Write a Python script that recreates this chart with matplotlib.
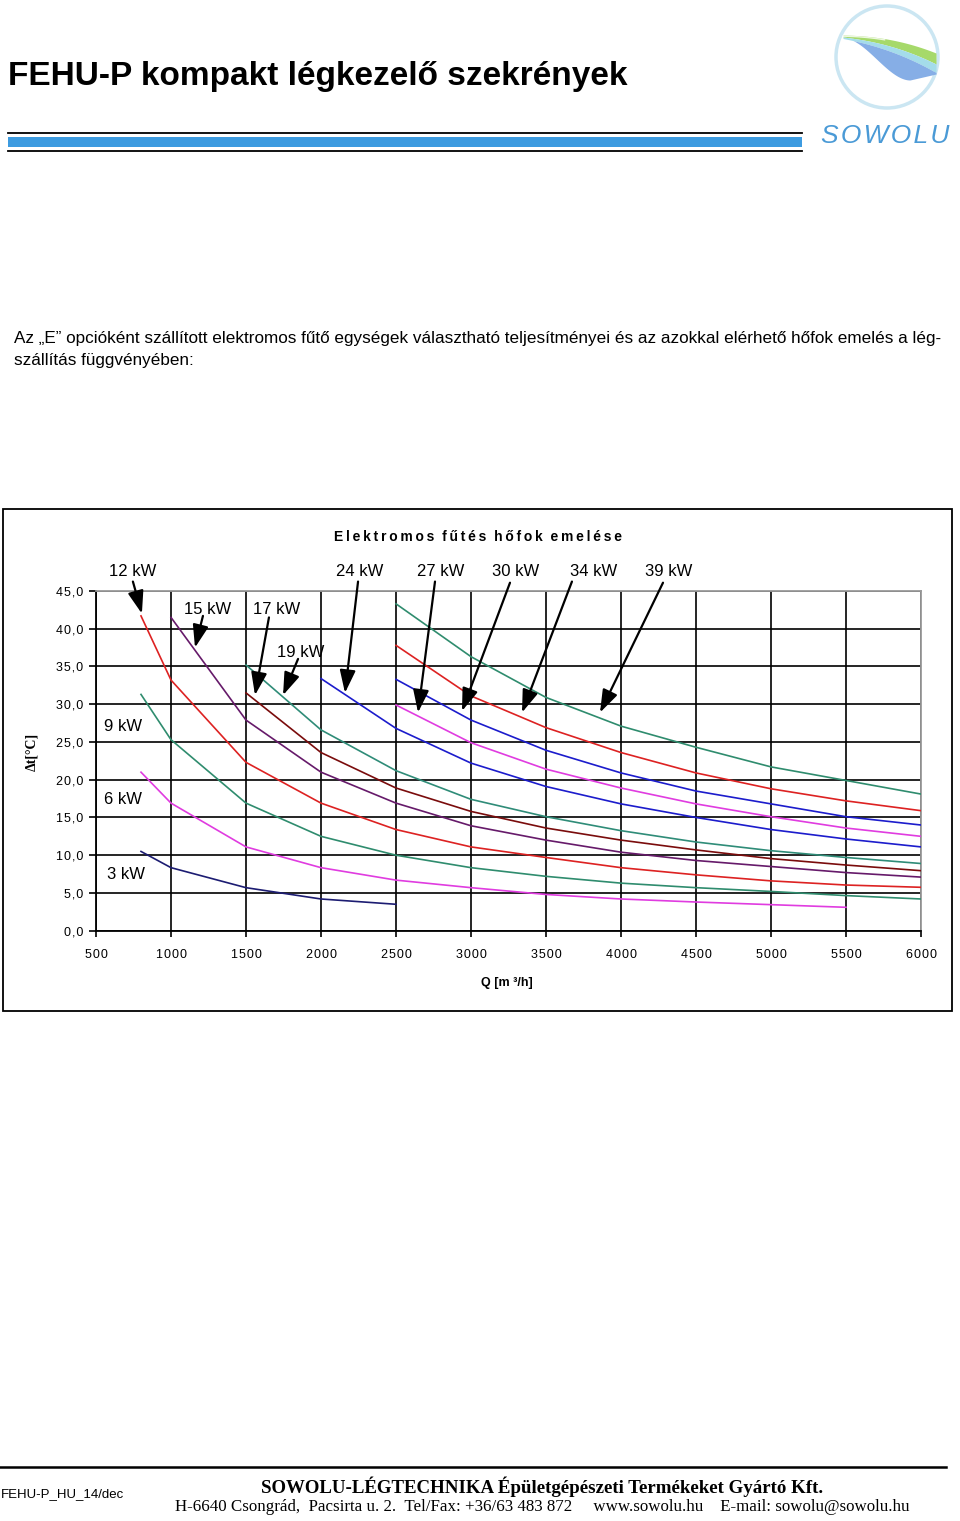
import matplotlib
matplotlib.use("Agg")
import matplotlib.pyplot as plt
from matplotlib.patches import Rectangle, Circle
from matplotlib.lines import Line2D
import numpy as np

# ---------------- data ----------------
q3 = [800, 1000, 1500, 2000, 2500]
dt3 = [10.5, 8.35, 5.7, 4.2, 3.5]
q6 = [800, 1000, 1500, 2000, 2500, 3000, 3500, 4000, 4500, 5000, 5500]
dt6 = [21.0, 16.9, 11.1, 8.35, 6.7, 5.7, 4.8, 4.2, 3.8, 3.45, 3.1]
q9 = [800, 1000, 1500, 2000, 2500, 3000, 3500, 4000, 4500, 5000, 5500, 6000]
dt9 = [31.3, 25.3, 16.9, 12.5, 10.0, 8.35, 7.2, 6.3, 5.7, 5.2, 4.65, 4.2]
q12 = [800, 1000, 1500, 2000, 2500, 3000, 3500, 4000, 4500, 5000, 5500, 6000]
dt12 = [41.7, 33.2, 22.3, 16.9, 13.4, 11.1, 9.7, 8.35, 7.4, 6.6, 6.05, 5.75]
q15 = [1000, 1500, 2000, 2500, 3000, 3500, 4000, 4500, 5000, 5500, 6000]
dt15 = [41.5, 27.9, 21.0, 16.9, 13.9, 12.0, 10.4, 9.3, 8.5, 7.7, 7.1]
q17 = [1500, 2000, 2500, 3000, 3500, 4000, 4500, 5000, 5500, 6000]
dt17 = [31.5, 23.6, 18.9, 15.8, 13.6, 12.0, 10.7, 9.55, 8.7, 7.95]
q19 = [1500, 2000, 2500, 3000, 3500, 4000, 4500, 5000, 5500, 6000]
dt19 = [35.2, 26.6, 21.2, 17.4, 15.1, 13.25, 11.75, 10.6, 9.7, 8.9]
q24 = [2000, 2500, 3000, 3500, 4000, 4500, 5000, 5500, 6000]
dt24 = [33.4, 26.8, 22.2, 19.1, 16.8, 15.0, 13.4, 12.15, 11.1]
q27 = [2500, 3000, 3500, 4000, 4500, 5000, 5500, 6000]
dt27 = [29.9, 24.9, 21.4, 18.9, 16.8, 15.1, 13.6, 12.5]
q30 = [2500, 3000, 3500, 4000, 4500, 5000, 5500, 6000]
dt30 = [33.3, 27.9, 23.9, 20.9, 18.5, 16.8, 15.1, 14.0]
q34 = [2500, 3000, 3500, 4000, 4500, 5000, 5500, 6000]
dt34 = [37.8, 31.1, 26.9, 23.6, 20.9, 18.8, 17.2, 15.9]
q39 = [2500, 3000, 3500, 4000, 4500, 5000, 5500, 6000]
dt39 = [43.3, 36.3, 30.9, 27.1, 24.3, 21.7, 19.9, 18.1]

power_labels = ["3 kW", "6 kW", "9 kW", "12 kW", "15 kW", "17 kW", "19 kW",
                "24 kW", "27 kW", "30 kW", "34 kW", "39 kW"]
x_ticks = [500, 1000, 1500, 2000, 2500, 3000, 3500, 4000, 4500, 5000, 5500, 6000]
y_ticks = [0, 5, 10, 15, 20, 25, 30, 35, 40, 45]
y_tick_labels = ["0,0", "5,0", "10,0", "15,0", "20,0", "25,0", "30,0", "35,0", "40,0", "45,0"]

chart_title = "Elektromos fűtés hőfok emelése"
x_label = "Q [m ³/h]"
y_label = "Δt[°C]"
page_title = "FEHU-P kompakt légkezelő szekrények"
para1 = "Az „E” opcióként szállított elektromos fűtő egységek választható teljesítményei és az azokkal elérhető hőfok emelés a lég-"
para2 = "szállítás függvényében:"
footer_code = "FEHU-P_HU_14/dec"
footer1 = "SOWOLU-LÉGTECHNIKA Épületgépészeti Termékeket Gyártó Kft."
footer2 = "H-6640 Csongrád,  Pacsirta u. 2.  Tel/Fax: +36/63 483 872     www.sowolu.hu    E-mail: sowolu@sowolu.hu"

# ---------------- styles / layout ----------------
series = [
    (q3, dt3, "#1c1c72"),
    (q6, dt6, "#e03ce0"),
    (q9, dt9, "#2f8c6e"),
    (q12, dt12, "#dd2222"),
    (q15, dt15, "#661a6a"),
    (q17, dt17, "#7a0c0c"),
    (q19, dt19, "#2f8c78"),
    (q24, dt24, "#1c1ccc"),
    (q27, dt27, "#e03ce0"),
    (q30, dt30, "#1c1ccc"),
    (q34, dt34, "#dd2222"),
    (q39, dt39, "#2f8c6e"),
]

# label text position, arrow tail, arrow tip (data coordinates)
arrow_labels = [
    ("12 kW", (746, 47.6), (746, 46.25), (806, 42.0)),
    ("15 kW", (1247, 42.55), (1213, 41.7), (1160, 37.5)),
    ("17 kW", (1707, 42.55), (1653, 41.5), (1560, 31.2)),
    ("19 kW", (1867, 36.85), (1847, 36.0), (1747, 31.2)),
    ("24 kW", (2260, 47.6), (2247, 46.25), (2160, 31.5)),
    ("27 kW", (2800, 47.6), (2760, 46.25), (2647, 28.9)),
    ("30 kW", (3300, 47.6), (3260, 46.1), (2940, 29.1)),
    ("34 kW", (3820, 47.6), (3673, 46.25), (3340, 28.9)),
    ("39 kW", (4320, 47.6), (4280, 46.1), (3860, 28.9)),
]
plain_labels = [("9 kW", (680, 27.0)), ("6 kW", (680, 17.4)), ("3 kW", (700, 7.4))]

W, H = 960, 1521
fig = plt.figure(figsize=(W / 100, H / 100), dpi=100)
fig.patch.set_facecolor("white")
SANS = ["Liberation Sans", "DejaVu Sans"]
SERIF = ["Liberation Serif", "DejaVu Serif"]


def fx(px):
    return px / W


def fy(py):
    return 1 - py / H


# ---------------- header ----------------
fig.text(fx(8), fy(77), page_title, fontsize=24, fontweight="bold", family=SANS,
         va="center", ha="left")
fig.add_artist(Line2D([fx(8), fx(802)], [fy(133), fy(133)], color="black", lw=1.3))
fig.add_artist(Rectangle((fx(8), fy(147)), fx(802) - fx(8), fy(137) - fy(147),
                         facecolor="#3d9be0", edgecolor="none"))
fig.add_artist(Line2D([fx(8), fx(802)], [fy(150.5), fy(150.5)], color="black", lw=1.3))

# logo
lax = fig.add_axes([fx(828), fy(118), fx(950) - fx(828), fy(0) - fy(118)])
lax.set_xlim(828, 950)
lax.set_ylim(118, 0)
lax.axis("off")
lax.add_patch(Circle((887, 57), 51, facecolor="none", edgecolor="#cbe6f2", lw=2.5))
xs = np.linspace(843, 936, 200)
t = (xs - 843) / 93.0
top = 35 + 2 * t + 16 * t ** 2.2
u = np.clip(t / 0.72, 0, 1)
bot = 38 + 42 * (3 * u ** 2 - 2 * u ** 3) - 6 * np.clip((t - 0.72) / 0.28, 0, 1)
g = top + 2 + 9 * t
c = g + 1.5 + 7 * t
lax.fill_between(xs, top, g, color="#a6d96a", lw=0)
lax.fill_between(xs, g, c, color="#a4dcea", lw=0)
lax.fill_between(xs, c, np.maximum(bot, c), color="#86aee6", lw=0)
lax.plot(xs[:90], (top + 1.2)[:90], color="white", lw=1.0, alpha=0.8)
fig.text(fx(885), fy(136), "S O W O L U".replace(" ", "\u200a"), fontsize=19,
         fontstyle="italic", color="#4a9ad6", family=SANS, ha="center", va="center")

# paragraph
fig.text(fx(14), fy(338), para1, fontsize=12.3, family=SANS, va="center", ha="left")
fig.text(fx(14), fy(361), para2, fontsize=12.3, family=SANS, va="center", ha="left")

# chart frame
fig.add_artist(Rectangle((fx(3), fy(1011)), fx(952) - fx(3), fy(509) - fy(1011),
                         facecolor="none", edgecolor="black", lw=1.3))

# ---------------- chart ----------------
ax = fig.add_axes([fx(96), fy(930.7), fx(921) - fx(96), fy(591) - fy(930.7)])
ax.set_xlim(500, 6000)
ax.set_ylim(0, 45)
ax.set_axisbelow(True)
ax.set_xticks(x_ticks)
ax.set_yticks(y_ticks)
ax.set_yticklabels(["\u200a".join(s) for s in y_tick_labels], family=SANS, fontsize=9)
ax.set_xticklabels(["\u200a".join(str(v)) for v in x_ticks], family=SANS, fontsize=9)
ax.grid(True, color="black", lw=1.2)
ax.tick_params(axis="y", direction="out", length=5, width=1.2, pad=4)
ax.tick_params(axis="x", direction="out", length=4, width=1.2, pad=9)
for s in ("left", "bottom"):
    ax.spines[s].set_color("black")
    ax.spines[s].set_linewidth(1.3)
for s in ("top", "right"):
    ax.spines[s].set_color("#9a9a9a")
    ax.spines[s].set_linewidth(1.3)

for q, dt, col in series:
    ax.plot(q, dt, color=col, lw=1.2, zorder=3)

for lab, tpos, tail, tip in arrow_labels:
    ax.text(tpos[0], tpos[1], lab, fontsize=12, family=SANS, ha="center", va="center",
            clip_on=False)
    ax.annotate("", xy=tip, xytext=tail, annotation_clip=False,
                arrowprops=dict(arrowstyle="-|>,head_length=1.15,head_width=0.4",
                                mutation_scale=12, color="black", lw=1.6,
                                shrinkA=0, shrinkB=0), zorder=5)
for lab, tpos in plain_labels:
    ax.text(tpos[0], tpos[1], lab, fontsize=12, family=SANS, ha="center", va="center")

spaced_title = "  ".join("\u2009".join(w) for w in chart_title.split(" "))
fig.text(fx(478), fy(537), spaced_title,
         fontsize=10, fontweight="bold", family=SANS, ha="center", va="center")
fig.text(fx(507), fy(983), x_label, fontsize=9, fontweight="bold", family=SANS,
         ha="center", va="center")
fig.text(fx(32), fy(752), y_label, fontsize=10, fontweight="bold", family=SERIF,
         ha="center", va="center", rotation=90)

# ---------------- footer ----------------
fig.add_artist(Line2D([fx(0), fx(946)], [fy(1467), fy(1467)], color="black", lw=1.8))
fig.text(fx(1), fy(1494), footer_code, fontsize=9.5, family=SANS, ha="left", va="center")
fig.text(fx(542), fy(1487), footer1, fontsize=13.6, fontweight="bold", family=SERIF,
         ha="center", va="center")
fig.text(fx(542), fy(1507), footer2, fontsize=12.2, family=SERIF, ha="center", va="center")

fig.savefig("out.png", dpi=100, facecolor="white")
